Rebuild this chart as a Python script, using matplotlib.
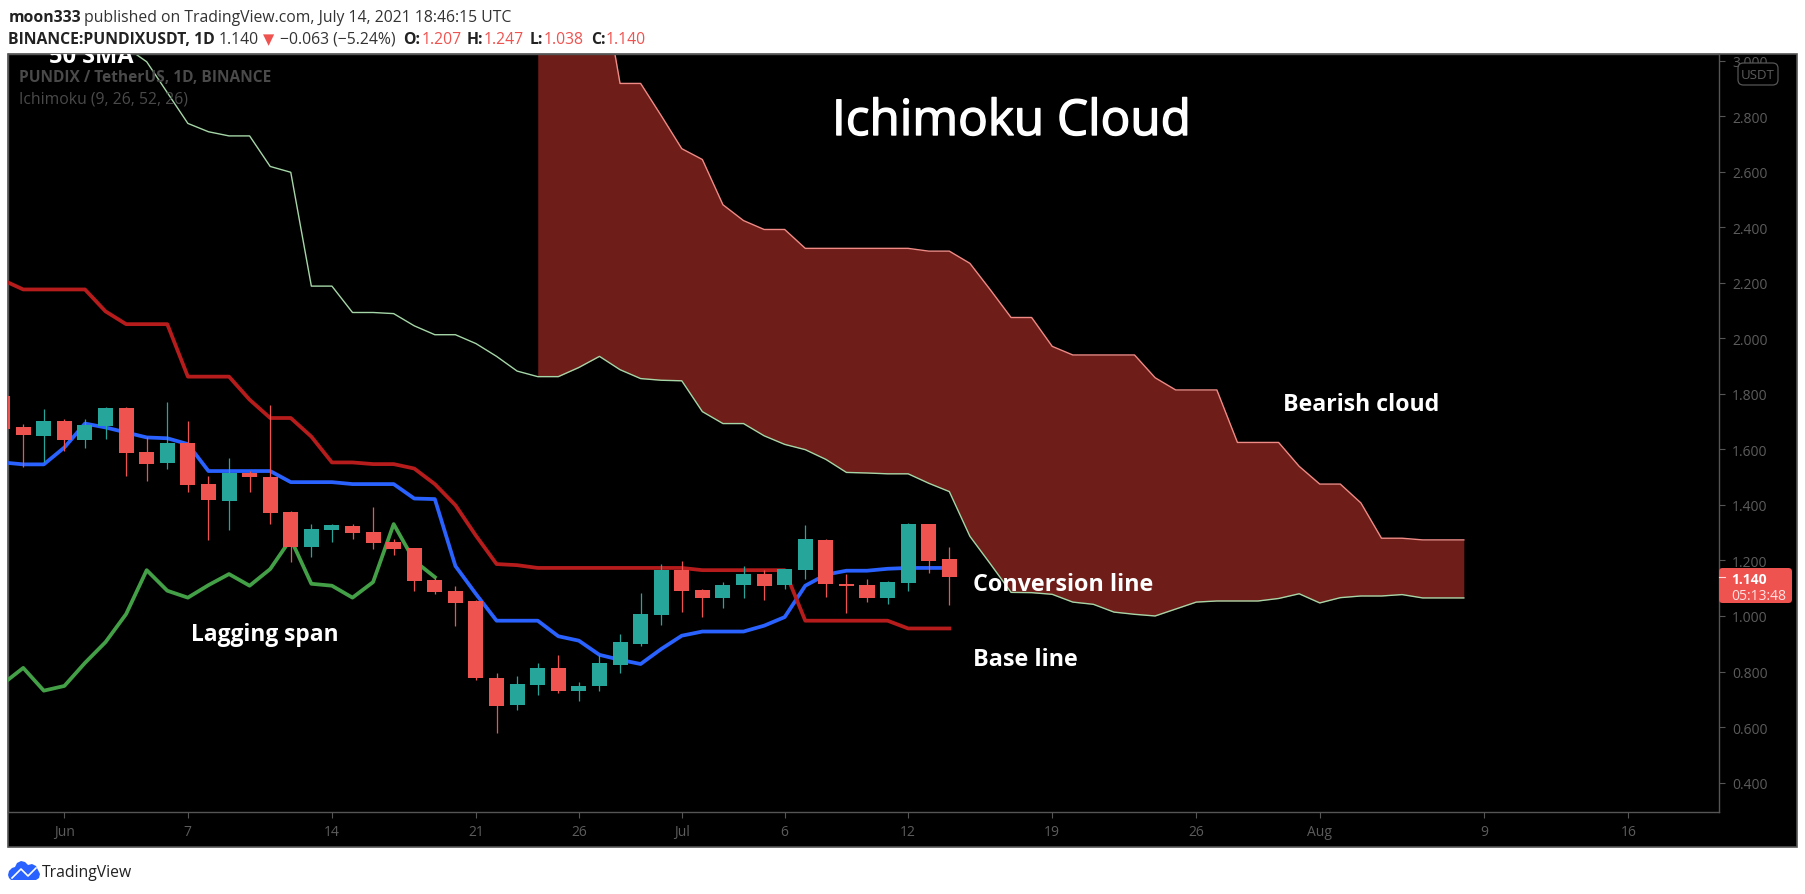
import matplotlib
matplotlib.use('Agg')
import matplotlib.pyplot as plt
import matplotlib.patheffects as pe
from matplotlib.patches import Rectangle, FancyBboxPatch, Polygon
from matplotlib.lines import Line2D
import numpy as np

W, H = 1805, 895

# candles, day 0 = Jul 14
opens = [1.793,1.680,1.649,1.704,1.634,1.683,1.748,1.590,1.552,1.622,1.475,1.415,1.514,1.501,1.374,1.249,
         1.311,1.324,1.302,1.266,1.245,1.130,1.090,1.054,0.777,0.678,0.753,0.813,0.731,0.746,0.825,0.900,
         1.005,1.165,1.094,1.066,1.113,1.151,1.113,1.167,1.273,1.115,1.111,1.066,1.120,1.331,1.207]
highs = [1.793,1.693,1.745,1.711,1.711,1.752,1.752,1.644,1.769,1.704,1.504,1.568,1.523,1.759,1.378,1.331,
         1.331,1.331,1.392,1.277,1.245,1.140,1.108,1.058,0.795,0.784,0.831,0.860,0.763,0.860,0.935,1.083,
         1.187,1.198,1.097,1.122,1.180,1.165,1.169,1.327,1.277,1.151,1.133,1.126,1.335,1.331,1.247]
lows = [1.673,1.535,1.553,1.595,1.606,1.637,1.505,1.487,1.529,1.447,1.275,1.311,1.447,1.332,1.195,1.213,
        1.267,1.278,1.242,1.221,1.091,1.080,0.965,0.771,0.577,0.660,0.717,0.721,0.692,0.731,0.793,0.893,
        0.969,1.016,0.998,1.030,1.066,1.059,1.098,1.134,1.070,1.012,1.052,1.044,1.091,1.156,1.038]
closes = [1.673,1.652,1.704,1.634,1.687,1.748,1.588,1.548,1.622,1.472,1.418,1.514,1.501,1.372,1.249,1.313,
          1.327,1.300,1.264,1.242,1.127,1.088,1.048,0.778,0.674,0.755,0.813,0.731,0.748,0.831,0.906,1.007,
          1.165,1.091,1.066,1.111,1.151,1.109,1.169,1.277,1.116,1.109,1.066,1.122,1.331,1.199,1.140]

# ichimoku lines
conversion = [1.553,1.546,1.546,1.607,1.693,1.679,1.661,1.643,1.640,1.619,1.522,1.522,1.522,1.522,1.482,1.482,
              1.482,1.475,1.475,1.475,1.423,1.421,1.180,1.079,0.983,0.983,0.983,0.927,0.911,0.860,0.842,0.827,
              0.881,0.929,0.944,0.944,0.944,0.965,0.996,1.109,1.149,1.163,1.163,1.170,1.173,1.173,1.173]
base = [2.210,2.176,2.176,2.176,2.176,2.097,2.051,2.051,2.051,1.862,1.862,1.862,1.779,1.713,1.713,1.646,
        1.553,1.553,1.547,1.547,1.531,1.475,1.399,1.289,1.187,1.183,1.173,1.173,1.173,1.173,1.173,1.173,
        1.173,1.173,1.165,1.165,1.165,1.165,1.165,0.983,0.983,0.983,0.983,0.983,0.955,0.955,0.955]
lagging = [0.755,0.813,0.731,0.748,0.831,0.906,1.007,1.165,1.091,1.066,1.111,1.151,1.109,1.169,1.277,1.116,
           1.109,1.066,1.122,1.331,1.199,1.140]
senkou_a = [3.200,3.048,2.996,2.885,2.774,2.744,2.729,2.729,2.619,2.598,2.188,2.188,2.093,2.093,2.089,2.045,
            2.013,2.013,1.981,1.935,1.882,1.862,1.862,1.895,1.935,1.887,1.855,1.849,1.847,1.736,1.693,1.693,
            1.649,1.618,1.599,1.564,1.517,1.515,1.512,1.512,1.478,1.448,1.287,1.187,1.085,1.084,1.078,1.050,
            1.042,1.014,1.006,1.000,1.025,1.050,1.054,1.054,1.054,1.063,1.080,1.047,1.066,1.072,1.072,1.077,
            1.065,1.065,1.065]
senkou_b = [3.345,3.345,3.345,3.345,2.918,2.918,2.802,2.683,2.644,2.481,2.424,2.392,2.392,2.324,2.324,2.324,
            2.324,2.324,2.324,2.314,2.314,2.270,2.174,2.075,2.075,1.971,1.940,1.940,1.940,1.940,1.858,1.814,
            1.814,1.814,1.625,1.625,1.625,1.539,1.475,1.475,1.407,1.280,1.280,1.274,1.274,1.274]

price_ticks = [0.4,0.6,0.8,1.0,1.2,1.4,1.6,1.8,2.0,2.2,2.4,2.6,2.8,3.0]
date_ticks = [-43,-37,-30,-23,-18,-13,-8,-2,5,12,18,26,33]
date_labels = ['Jun','7','14','21','26','Jul','6','12','19','26','Aug','9','16']

UP = '#26A69A'
DOWN = '#EF5350'
GREY = '#555555'
FONT = 'Open Sans'

def fx(x):
    return x / W

def fy(y):
    return 1 - y / H

def label(x, y, s, **kw):
    kw.setdefault('family', FONT)
    kw.setdefault('va', 'baseline')
    return fig.text(fx(x), fy(y), s, **kw)

fig = plt.figure(figsize=(W/100, H/100), dpi=100, facecolor='white')

# black pane behind axes, with the outer frame
fig.add_artist(Rectangle((fx(8), fy(848)), fx(1789), (848-55)/H, transform=fig.transFigure,
                         facecolor='black', edgecolor=GREY, linewidth=1.2, zorder=-1))

ax = fig.add_axes([fx(8), fy(813), fx(1719-8), (813-55)/H])
ax.set_facecolor('black')
ax.set_xlim(-45.74, 37.4)
ax.set_ylim(0.294, 3.024)
for s in ax.spines.values():
    s.set_color(GREY)
    s.set_linewidth(1.0)

days = np.arange(-46, 1)
ax.plot(days, conversion, color='#2962FF', lw=2.7, zorder=3, solid_joinstyle='round')
ax.plot(days, base, color='#B71C1C', lw=2.7, zorder=3, solid_joinstyle='round')
ax.plot(np.arange(-46, -46+len(lagging)), lagging, color='#43A047', lw=2.7, zorder=3)

a_days = np.arange(-41, -41+len(senkou_a))
b_days = np.arange(-20, -20+len(senkou_b))
ax.fill_between(b_days, senkou_a[21:], senkou_b, color='#6E1D19', lw=0, zorder=1)
ax.plot(a_days, senkou_a, color='#A5D6A7', lw=1.0, zorder=2)
ax.plot(b_days, senkou_b, color='#EF8A85', lw=1.0, zorder=2)

opens_a, closes_a = np.array(opens), np.array(closes)
colors = [UP if c >= o else DOWN for o, c in zip(opens, closes)]
ax.vlines(days, lows, highs, colors=colors, lw=0.9, zorder=4)
ax.bar(days, np.abs(closes_a-opens_a), bottom=np.minimum(opens_a, closes_a), width=0.73, color=colors, lw=0, zorder=5)

ax.yaxis.tick_right()
ax.set_yticks(price_ticks)
ax.set_yticklabels(['%.3f' % p for p in price_ticks])
ax.set_xticks(date_ticks)
ax.set_xticklabels(date_labels)
ax.tick_params(axis='y', colors=GREY, length=4.5, width=0.8, pad=5, labelsize=10, labelcolor='#5c5c5c')
ax.tick_params(axis='x', colors=GREY, length=4, width=0.8, pad=5, labelsize=10, labelcolor='#5c5c5c')
for t in ax.get_xticklabels() + ax.get_yticklabels():
    t.set_family(FONT)

# annotations on the chart
clip = dict(transform=fig.transFigure, clip_on=True, family=FONT, va='baseline', zorder=7)
ax.text(fx(49), fy(63), '50 SMA', color='white', fontsize=17, fontweight='bold', **clip)
ax.text(fx(19), fy(82), 'PUNDIX / TetherUS, 1D, BINANCE', color='#4a4a4a', fontsize=11.2, fontweight='bold', **clip)
ax.text(fx(19), fy(103), 'Ichimoku (9, 26, 52, 26)', color='#4a4a4a', fontsize=11.3, **clip)
title = ax.text(fx(832), fy(136), 'Ichimoku Cloud', color='white', fontsize=35.6, **clip)
title.set_path_effects([pe.withStroke(linewidth=1.0, foreground='white')])
ax.text(fx(1283), fy(411), 'Bearish cloud', color='white', fontsize=16.7, fontweight='bold', **clip)
ax.text(fx(973), fy(591), 'Conversion line', color='white', fontsize=16.8, fontweight='bold', **clip)
ax.text(fx(973), fy(666), 'Base line', color='white', fontsize=16.8, fontweight='bold', **clip)
ax.text(fx(191), fy(641), 'Lagging span', color='white', fontsize=16.4, fontweight='bold', **clip)

# price scale badges
fig.add_artist(FancyBboxPatch((fx(1719), fy(604)), fx(73), 35/H, boxstyle='round,pad=0,rounding_size=0.002',
                              transform=fig.transFigure, facecolor=DOWN, edgecolor='none', zorder=8, mutation_aspect=2))
fig.add_artist(Line2D([fx(1719), fx(1725)], [fy(578.3), fy(578.3)], color='#FFD9D8', lw=0.8, zorder=9))
label(1731, 584, '1.140', color='white', fontsize=10, fontweight='bold', zorder=9)
label(1731, 600, '05:13:48', color='#FFE3E2', fontsize=10, zorder=9)
fig.add_artist(FancyBboxPatch((fx(1738), fy(86)), fx(40), 22/H, boxstyle='round,pad=0,rounding_size=0.003',
                              transform=fig.transFigure, facecolor='black', edgecolor=GREY, linewidth=0.9, zorder=8, mutation_aspect=2))
label(1758, 79, 'USDT', color='#5c5c5c', fontsize=9.5, ha='center', zorder=9)

# header
label(8.5, 21.7, 'moon333', color='#222222', fontsize=11.3, fontweight='bold')
label(84, 21.7, 'published on TradingView.com, July 14, 2021 18:46:15 UTC', color='#333333', fontsize=11.35)
label(8.5, 43.7, 'BINANCE:PUNDIXUSDT, 1D', color='#222222', fontsize=11.3, fontweight='bold')
label(219, 43.7, '1.140', color='#333333', fontsize=11.3)
label(263, 43.7, '\u25BC', color=DOWN, fontsize=10.5, family='DejaVu Sans')
label(280, 43.7, '\u22120.063 (\u22125.24%)', color='#333333', fontsize=11.3)
for x, s in [(403, 'O:'), (467, 'H:'), (530, 'L:'), (591, 'C:')]:
    label(x, 43.7, s, color='#222222', fontsize=11.3, fontweight='bold')
for x, s in [(422, '1.207'), (484, '1.247'), (544, '1.038'), (606, '1.140')]:
    label(x, 43.7, s, color=DOWN, fontsize=11.3)

# footer logo
logo = [(8,876),(9,872),(12,869),(15,868),(17,864),(21,862),(25,863),(28,866),(32,865),(36,867),(38,871),(40,875),
        (39,879),(36,881),(11,881),(9,879)]
fig.add_artist(Polygon([(fx(x), fy(y)) for x, y in logo], closed=True, transform=fig.transFigure,
                       facecolor='#2962FF', edgecolor='none'))
fig.add_artist(Line2D([fx(12), fx(21), fx(28), fx(36)], [fy(879), fy(870), fy(877), fy(869)], color='white', lw=1.2))
label(42, 877, 'TradingView', color='#222222', fontsize=11.3)

fig.savefig('out.png', dpi=100, facecolor='white')
